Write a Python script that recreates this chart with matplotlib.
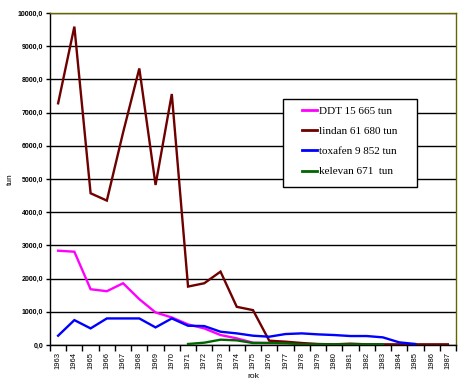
import matplotlib.pyplot as plt
from matplotlib.patches import Rectangle

years = [str(y) for y in range(1963, 1988)]

# yearly amounts in tonnes, None = no data
ddt = [2840, 2810, 1680, 1620, 1860, 1380, 980, 830, 620, 500, 300, 200,
       70, 60, 60] + [None] * 10
lindan = [7280, 9590, 4570, 4350, 6400, 8330, 4820, 7560, 1760, 1860, 2210,
          1150, 1050, 130, 100, 60, 30, 20, 40, 20, 20, 20, 20, 20, 20]
toxafen = [280, 750, 500, 800, 800, 800, 530, 800, 580, 570, 400, 350, 280,
           250, 330, 350, 320, 300, 270, 270, 230, 80, 30, None, None]
kelevan = [None] * 8 + [30, 70, 160, 140, 60, 60, 50, 20, 20, 20, 20, 20,
                        20, None, None, None, None]

labels = ["DDT 15 665 tun", "lindan 61 680 tun", "toxafen 9 852 tun",
          "kelevan 671  tun"]
colors = ["#ff00ff", "#6e0000", "#0000ff", "#006600"]

fig = plt.figure(figsize=(4.73, 3.91), dpi=100)
ax = fig.add_axes([50 / 473, 46 / 391, 406 / 473, 332 / 391])

x = list(range(len(years)))
series = [ddt, lindan, toxafen, kelevan]
lines = []
for data, col, lab in zip(series, colors, labels):
    xs = [i for i, v in zip(x, data) if v is not None]
    ys = [v for v in data if v is not None]
    ln, = ax.plot(xs, ys, color=col, lw=1.7, label=lab, zorder=3,
                  solid_joinstyle="miter")
    lines.append(ln)

ax.set_xlim(-0.5, len(years) - 0.5)
ax.set_ylim(0, 10000)
ax.set_yticks(range(0, 10001, 1000))
ax.set_yticklabels([f"{v},0" for v in range(0, 10001, 1000)],
                   fontsize=5, fontweight="bold", family="Liberation Sans")
ax.yaxis.grid(True, color="black", lw=1)
ax.set_axisbelow(True)

ax.set_xticks(x)
ax.set_xticklabels(years, rotation=90, fontsize=5.5, family="Liberation Sans")
ax.set_xticks([i - 0.5 for i in range(len(years) + 1)], minor=True)
ax.tick_params(axis="x", which="major", length=0, pad=5)
ax.tick_params(axis="x", which="minor", length=4, width=1, direction="out")
ax.tick_params(axis="y", length=3, width=1, pad=2)

for s in ["top", "right"]:
    ax.spines[s].set_color("#666600")
    ax.spines[s].set_linewidth(1)
for s in ["left", "bottom"]:
    ax.spines[s].set_color("black")
    ax.spines[s].set_linewidth(1)

ax.set_xlabel("rok", fontsize=6, family="Liberation Sans", labelpad=3)
ax.set_ylabel("tun", fontsize=6, family="Liberation Sans")
ax.yaxis.set_label_coords(-36 / 406, 0.5)

# legend box
ax.add_patch(Rectangle((283 / 473, 1 - 187 / 391), 134 / 473, 88 / 391,
                       transform=fig.transFigure, facecolor="white",
                       edgecolor="black", lw=1, zorder=5, clip_on=False))
leg = ax.legend(handles=lines, loc="upper left",
                bbox_to_anchor=(302 / 473, 1 - 106 / 391),
                bbox_transform=fig.transFigure, frameon=False,
                prop={"family": "Liberation Serif", "size": 8},
                handlelength=1.35, handletextpad=0.15, labelspacing=0.94,
                borderpad=0, borderaxespad=0)
leg.set_zorder(6)
for h in leg.get_lines():
    h.set_linewidth(2)

fig.savefig("out.png", dpi=100)
